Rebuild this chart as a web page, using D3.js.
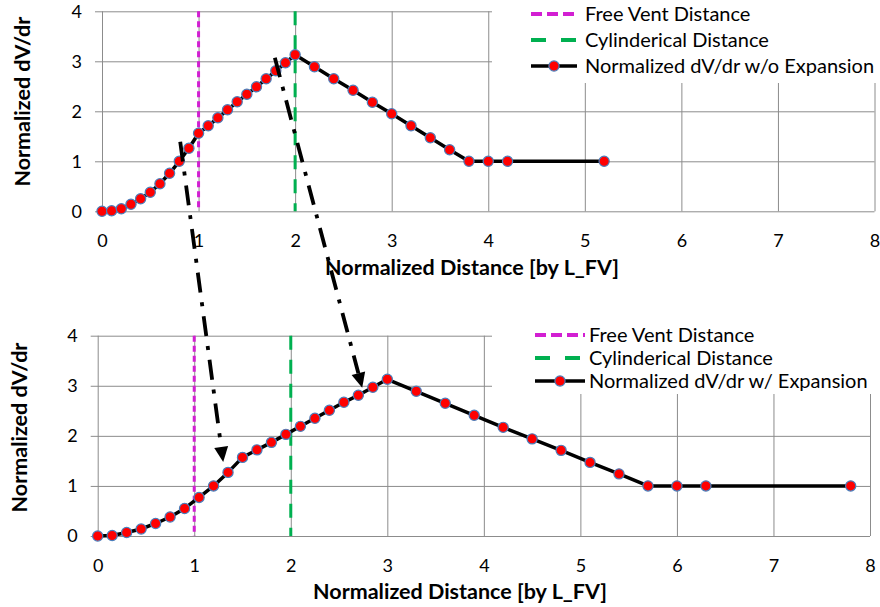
<!DOCTYPE html>
<html><head><meta charset="utf-8">
<script src="https://cdn.jsdelivr.net/npm/d3@7"></script>
<style>body{margin:0;background:#fff}svg{display:block}</style>
</head><body><svg id="c" width="880" height="607"></svg>
<script>
// ---- data ----
const xTicks = [0, 1, 2, 3, 4, 5, 6, 7, 8];
const yTicks = [0, 1, 2, 3, 4];
const topX = [0,0.1,0.2,0.3,0.4,0.5,0.6,0.7,0.8,0.9,1.0,1.1,1.2,1.3,1.4,1.5,1.6,1.7,1.8,1.9,2.0,2.2,2.4,2.6,2.8,3.0,3.2,3.4,3.6,3.8,4.0,4.2,5.2];
const topY = [0,0.01,0.05,0.14,0.25,0.38,0.55,0.76,1.0,1.26,1.56,1.71,1.87,2.03,2.19,2.34,2.49,2.65,2.81,2.97,3.13,2.89,2.65,2.42,2.18,1.95,1.71,1.47,1.23,1.0,1.0,1.0,1.0];
const botX = [0,0.15,0.3,0.45,0.6,0.75,0.9,1.05,1.2,1.35,1.5,1.65,1.8,1.95,2.1,2.25,2.4,2.55,2.7,2.85,3.0,3.3,3.6,3.9,4.2,4.5,4.8,5.1,5.4,5.7,6.0,6.3,7.8];
const botY = [0,0.01,0.07,0.14,0.25,0.38,0.55,0.77,1.0,1.27,1.57,1.72,1.87,2.03,2.19,2.35,2.51,2.67,2.81,2.97,3.13,2.89,2.65,2.41,2.17,1.94,1.71,1.47,1.24,1.0,1.0,1.0,1.0];
const freeVentX = 1;
const cylX = 2;
const legendTop = ["Free Vent Distance", "Cylinderical Distance", "Normalized dV/dr w/o Expansion"];
const legendBot = ["Free Vent Distance", "Cylinderical Distance", "Normalized dV/dr w/ Expansion"];
const yTitle = "Normalized dV/dr";
const xTitle = "Normalized Distance [by L_FV]";
// arrows: start in top chart data coords, end in bottom chart data coords
const arrowFrom = [[0.81, 1.39], [1.79, 3.07]];
const arrowTo = [[1.30, 1.48], [2.74, 2.96]];

// ---- layout ----
const FONT = "Lato, 'Open Sans', sans-serif";
const MAG = "#d21fd2", GRN = "#00b050", GRID = "#8c8c8c";
const panels = [
  {xr:[102,874.5], yr:[211.3,11.3], xs:topX, ys:topY, legend:legendTop,
   box:[492,0,388,83], rows:[14,40,66], line:[531,577], tx:585, yt:[22.5,101.7], xt:[472,275]},
  {xr:[97.7,870], yr:[536,335.7], xs:botX, ys:botY, legend:legendBot,
   box:[492,320,388,74], rows:[335,358,381], line:[535,585], tx:589, yt:[19,427.5], xt:[460,599]}
];

const svg = d3.select("#c");
const scales = [];

panels.forEach((p, i) => {
  const x = d3.scaleLinear().domain([0, 8]).range(p.xr);
  const y = d3.scaleLinear().domain([0, 4]).range(p.yr);
  scales.push({x, y});
  const W = p.xr[1] - p.xr[0], H = p.yr[0] - p.yr[1];

  // y axis with gridlines
  const ya = svg.append("g").attr("transform", `translate(${p.xr[0]-7},0)`)
    .call(d3.axisLeft(y).tickValues(yTicks).tickFormat(d3.format("d")).tickSize(-(W+7)).tickPadding(13));
  ya.select(".domain").remove();
  ya.selectAll(".tick line").attr("stroke", GRID).attr("stroke-width", 1);
  ya.selectAll(".tick text").attr("font-family", FONT).attr("font-size", 18).attr("fill", "#000");

  // x axis with gridlines
  const xa = svg.append("g").attr("transform", `translate(0,${p.yr[0]})`)
    .call(d3.axisBottom(x).tickValues(xTicks).tickFormat(d3.format("d")).tickSize(-H).tickPadding(0));
  xa.select(".domain").remove();
  xa.selectAll(".tick line").attr("stroke", GRID).attr("stroke-width", 1);
  xa.selectAll(".tick text").attr("font-family", FONT).attr("font-size", 18).attr("fill", "#000")
    .attr("y", 35.5).attr("dy", 0);

  // legend box (white) hides grid
  svg.append("rect").attr("x", p.box[0]).attr("y", p.box[1]).attr("width", p.box[2]).attr("height", p.box[3]).attr("fill", "#fff");

  // vertical reference lines
  svg.append("line").attr("x1", x(freeVentX)).attr("x2", x(freeVentX)).attr("y1", y(4)).attr("y2", y(0))
    .attr("stroke", MAG).attr("stroke-width", 3).attr("stroke-dasharray", "6,4");
  svg.append("line").attr("x1", x(cylX)).attr("x2", x(cylX)).attr("y1", y(4)).attr("y2", y(0))
    .attr("stroke", GRN).attr("stroke-width", 3).attr("stroke-dasharray", "14,10");

  // series
  const pts = p.xs.map((v, k) => [v, p.ys[k]]);
  svg.append("path").datum(pts)
    .attr("d", d3.line().x(d => x(d[0])).y(d => y(d[1])))
    .attr("fill", "none").attr("stroke", "#000").attr("stroke-width", 3.5).attr("stroke-linejoin", "round");
  svg.append("g").selectAll("circle").data(pts).join("circle")
    .attr("cx", d => x(d[0])).attr("cy", d => y(d[1])).attr("r", 5.1)
    .attr("fill", "#ff0000").attr("stroke", "#4a7ebb").attr("stroke-width", 1.2);

  // legend
  const lg = svg.append("g");
  const [lx1, lx2] = p.line;
  lg.append("line").attr("x1", lx1).attr("x2", lx2).attr("y1", p.rows[0]).attr("y2", p.rows[0])
    .attr("stroke", MAG).attr("stroke-width", 4).attr("stroke-dasharray", "11,5");
  lg.append("line").attr("x1", lx1).attr("x2", lx2).attr("y1", p.rows[1]).attr("y2", p.rows[1])
    .attr("stroke", GRN).attr("stroke-width", 4).attr("stroke-dasharray", "15,15");
  lg.append("line").attr("x1", lx1).attr("x2", lx2).attr("y1", p.rows[2]).attr("y2", p.rows[2])
    .attr("stroke", "#000").attr("stroke-width", 3.5);
  lg.append("circle").attr("cx", (lx1+lx2)/2).attr("cy", p.rows[2]).attr("r", 5.1)
    .attr("fill", "#ff0000").attr("stroke", "#4a7ebb").attr("stroke-width", 1.2);
  p.legend.forEach((t, k) => {
    lg.append("text").attr("x", p.tx).attr("y", p.rows[k]).attr("dy", "0.35em")
      .attr("font-family", FONT).attr("font-size", 20).text(t);
  });

  // titles
  svg.append("text").attr("transform", `translate(${p.yt[0]},${p.yt[1]}) rotate(-90)`)
    .attr("text-anchor", "middle").attr("dy", "0.35em")
    .attr("font-family", FONT).attr("font-weight", "bold").attr("font-size", 21.5).text(yTitle);
  svg.append("text").attr("x", p.xt[0]).attr("y", p.xt[1]).attr("text-anchor", "middle")
    .attr("font-family", FONT).attr("font-weight", "bold").attr("font-size", 21.5).text(xTitle);
});

// arrows (dash-dot, from top chart to bottom chart)
arrowFrom.forEach((f, i) => {
  const t = arrowTo[i];
  const x1 = scales[0].x(f[0]), y1 = scales[0].y(f[1]);
  const x2 = scales[1].x(t[0]), y2 = scales[1].y(t[1]);
  const ang = Math.atan2(y2 - y1, x2 - x1);
  const hl = 15, hw = 7;
  const bx = x2 - hl * Math.cos(ang), by = y2 - hl * Math.sin(ang);
  svg.append("line").attr("x1", x1).attr("y1", y1).attr("x2", bx).attr("y2", by)
    .attr("stroke", "#000").attr("stroke-width", 3.8).attr("stroke-dasharray", "20,10,4,10");
  const px = -Math.sin(ang), py = Math.cos(ang);
  svg.append("path")
    .attr("d", `M${x2},${y2}L${bx+hw*px},${by+hw*py}L${bx-hw*px},${by-hw*py}Z`)
    .attr("fill", "#000");
});
</script></body></html>
